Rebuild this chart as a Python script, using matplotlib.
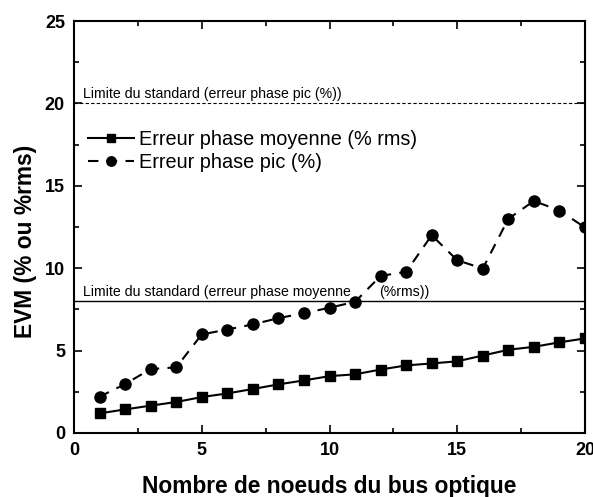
import matplotlib
matplotlib.use('Agg')
import matplotlib.pyplot as plt
from matplotlib.ticker import MultipleLocator

plt.rcParams['font.family'] = ['Liberation Sans', 'DejaVu Sans']

noeuds = list(range(1, 21))
erreur_moyenne = [1.19, 1.43, 1.66, 1.88, 2.18, 2.4, 2.67, 2.95, 3.19, 3.45,
                  3.56, 3.85, 4.1, 4.22, 4.35, 4.7, 5.05, 5.23, 5.5, 5.74]
erreur_pic = [2.2, 2.97, 3.88, 3.98, 5.98, 6.28, 6.59, 6.97, 7.27, 7.6,
              7.96, 9.53, 9.78, 12.0, 10.48, 9.98, 13.0, 14.08, 13.5, 12.47]
limite_moyenne = 8
limite_pic = 20

fig = plt.figure(figsize=(5.93, 4.97), dpi=100)
ax = fig.add_axes([0.1248, 0.1288, 0.8617, 0.8289])

ax.plot(noeuds, erreur_moyenne, color='black', lw=1.5, marker='s', ms=6.5,
        label='Erreur phase moyenne (% rms)')
ax.plot(noeuds, erreur_pic, color='black', lw=1.5, ls=(0, (5, 4)), marker='o', ms=8,
        label='Erreur phase pic (%)')

ax.axhline(limite_moyenne, color='black', lw=1)
ax.axhline(limite_pic, color='black', lw=0.8, ls=(0, (3, 2)))
ax.text(0.35, limite_pic + 0.3, 'Limite du standard (erreur phase pic (%))', fontsize=10.2)
ax.text(0.35, limite_moyenne + 0.3, 'Limite du standard (erreur phase moyenne', fontsize=10.2)
ax.text(11.95, limite_moyenne + 0.3, '(%rms))', fontsize=10.2)

ax.set_xlim(0, 20)
ax.set_ylim(0, 25)
ax.xaxis.set_major_locator(MultipleLocator(5))
ax.xaxis.set_minor_locator(MultipleLocator(2.5))
ax.yaxis.set_major_locator(MultipleLocator(5))
ax.yaxis.set_minor_locator(MultipleLocator(2.5))
ax.tick_params(which='both', direction='in', top=True, right=True, width=1.2)
ax.tick_params(which='major', length=6, labelsize=13, pad=6.5)
ax.tick_params(which='minor', length=3.5)
for lab in ax.get_xticklabels() + ax.get_yticklabels():
    lab.set_fontweight('bold')
for s in ax.spines.values():
    s.set_linewidth(1.5)

ax.set_xlabel('Nombre de noeuds du bus optique', fontsize=16.4, fontweight='bold')
ax.xaxis.set_label_coords(0.5, -0.103)
ax.set_ylabel('EVM (% ou %rms)', fontsize=16.4, fontweight='bold')
ax.yaxis.set_label_coords(-0.073, 0.466)

leg = ax.legend(loc='upper left', bbox_to_anchor=(0.0, 0.77), frameon=False, fontsize=14.3,
                handlelength=2.3, handletextpad=0.25, labelspacing=0.2, borderaxespad=0.3,
                markerscale=0.85)

fig.savefig('out.png', dpi=100)
